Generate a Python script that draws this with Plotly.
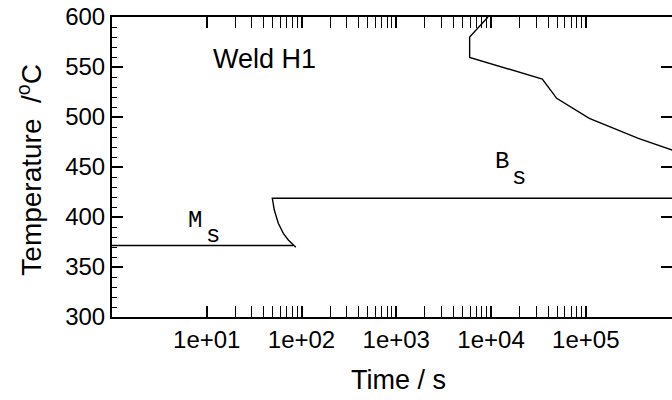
import plotly.graph_objects as go

# ---- data ----
ms_time = [1, 82]
ms_temp = [371.5, 371.5]

bs_time = [87, 82, 72.6, 64.3, 56.9, 51.6, 49.2, 1e6]
bs_temp = [369.7, 372, 377, 383.7, 393.7, 407, 418.7, 418.7]

upper_time = [9290, 5950, 5950, 34800, 49300, 109000, 359000, 1e6]
upper_temp = [600, 580, 559.5, 538, 518.7, 498.7, 478.7, 464]

x_tickvals = [1e1, 1e2, 1e3, 1e4, 1e5]
x_ticktext = ["1e+01", "1e+02", "1e+03", "1e+04", "1e+05"]
x_minor = [k * 10 ** d for d in range(1, 5) for k in range(2, 10)]
y_tickvals = [300, 350, 400, 450, 500, 550, 600]

SANS = "Liberation Sans, Arial, Helvetica, sans-serif"
MONO = "Liberation Mono, Courier New, monospace"

fig = go.Figure()
line = dict(color="black", width=1.4)
fig.add_trace(go.Scatter(x=ms_time, y=ms_temp, mode="lines", line=line, showlegend=False, hoverinfo="skip"))
fig.add_trace(go.Scatter(x=bs_time, y=bs_temp, mode="lines", line=line, showlegend=False, hoverinfo="skip"))
fig.add_trace(go.Scatter(x=upper_time, y=upper_temp, mode="lines", line=line, showlegend=False,
                         hoverinfo="skip", yaxis="y2"))

axis_common = dict(showgrid=False, zeroline=False, ticks="inside", ticklen=11, tickwidth=1.5,
                   tickcolor="black", linecolor="black", linewidth=2)

fig.update_layout(
    width=672, height=400,
    margin=dict(l=112, r=0, t=17, b=83),
    paper_bgcolor="white", plot_bgcolor="white",
    font=dict(family=SANS, color="black"),
    xaxis=dict(type="log", range=[0, 5.91], tickmode="array", tickvals=x_tickvals, ticktext=x_ticktext,
               showline=True, mirror="allticks", tickfont=dict(size=24, family=SANS),
               minor=dict(tickmode="array", tickvals=x_minor, ticks="inside", ticklen=5,
                          tickwidth=1.2, tickcolor="black", showgrid=False),
               **axis_common),
    yaxis=dict(range=[300, 600], tickmode="array", tickvals=y_tickvals, showline=True, mirror=False,
               tickfont=dict(size=24, family=SANS),
               minor=dict(dtick=10, ticks="inside", ticklen=5, tickwidth=1.2, tickcolor="black",
                          showgrid=False),
               **axis_common),
    yaxis2=dict(range=[300, 600], overlaying="y", side="right", tickmode="array", tickvals=y_tickvals,
                showline=False, showticklabels=False, **{k: v for k, v in axis_common.items()
                                                          if k not in ("linecolor", "linewidth")}),
    annotations=[
        dict(text="Time / s", xref="paper", yref="paper", x=0.511, y=-0.21, showarrow=False,
             xanchor="center", yanchor="middle", font=dict(size=27, family=SANS)),
        dict(text="Temperature&nbsp; /<sup>o</sup>C", xref="paper", yref="paper", x=-0.147, y=0.49,
             textangle=-90, showarrow=False, xanchor="center", yanchor="middle",
             font=dict(size=28, family=SANS)),
        dict(text="Weld H1", xref="paper", yref="paper", x=0.273, y=0.86, showarrow=False,
             xanchor="center", yanchor="middle", font=dict(size=27, family=SANS)),
        dict(text="M", xref="paper", yref="paper", x=0.149, y=0.32, showarrow=False,
             xanchor="center", yanchor="middle", font=dict(size=24, family=MONO)),
        dict(text="s", xref="paper", yref="paper", x=0.1795, y=0.273, showarrow=False,
             xanchor="center", yanchor="middle", font=dict(size=24, family=MONO)),
        dict(text="B", xref="paper", yref="paper", x=0.696, y=0.519, showarrow=False,
             xanchor="center", yanchor="middle", font=dict(size=24, family=MONO)),
        dict(text="s", xref="paper", yref="paper", x=0.726, y=0.466, showarrow=False,
             xanchor="center", yanchor="middle", font=dict(size=24, family=MONO)),
    ],
)

fig.write_html("out.html")
